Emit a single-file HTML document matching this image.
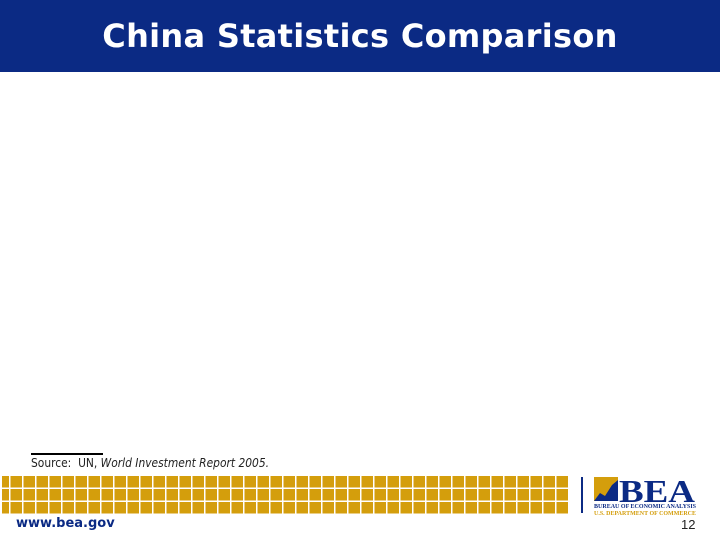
<!DOCTYPE html>
<html><head><meta charset="utf-8"><style>
html,body{margin:0;padding:0;}
body{width:720px;height:540px;position:relative;background:#fff;overflow:hidden;font-family:"Liberation Sans",sans-serif;}
#title-bar{position:absolute;left:0;top:0;width:720px;height:72px;background:#0B2A84;}
#title{position:absolute;left:0;top:17px;width:720px;text-align:center;color:#fff;font-family:"DejaVu Sans",sans-serif;font-weight:bold;font-size:32px;letter-spacing:0.3px;}
#src-rule{position:absolute;left:31px;top:453px;width:72px;height:2px;background:#000;}
#source{position:absolute;left:31px;top:456px;font-size:12px;color:#222;font-family:"DejaVu Sans",sans-serif;transform:scaleX(0.89);transform-origin:left;}
#grid{position:absolute;left:2px;top:476px;width:566px;height:38px;background-color:#D49E0C;
background-image:repeating-linear-gradient(to right,transparent 0,transparent 7px,#fff 7px,#fff 8.5px,transparent 8.5px,transparent 13px),
repeating-linear-gradient(to bottom,transparent 0,transparent 11.5px,#fff 11.5px,#fff 13px);}
#sep{position:absolute;left:581px;top:477px;width:2px;height:36px;background:#0B2A84;}
#url{position:absolute;left:16px;top:516px;font-size:13px;font-weight:bold;color:#0B2A84;font-family:"DejaVu Sans",sans-serif;}
#page{position:absolute;left:681px;top:517px;font-size:13px;color:#222;}
</style></head><body>
<div id="title-bar"></div>
<div id="title">China Statistics Comparison</div>
<div id="src-rule"></div>
<div id="source">Source:&nbsp; UN, <i>World Investment Report 2005.</i></div>
<div id="grid"></div>
<div id="sep"></div>
<svg style="position:absolute;left:592px;top:474px" width="106" height="42">
<rect x="2" y="3" width="24" height="24" fill="#D49E0C"/>
<path d="M2 27 L8 19 L13 22 L20 11 L26 6 L26 27 Z" fill="#0B2A84"/>
<text x="27" y="28" font-family="Liberation Serif,serif" font-weight="bold" font-size="32" fill="#0B2A84" textLength="76" lengthAdjust="spacingAndGlyphs">BEA</text>
<text x="2" y="34" font-family="Liberation Serif,serif" font-weight="bold" font-size="6.5" fill="#0B2A84" textLength="102" lengthAdjust="spacingAndGlyphs">BUREAU OF ECONOMIC ANALYSIS</text>
<text x="2" y="41" font-family="Liberation Serif,serif" font-weight="bold" font-size="6.5" fill="#D49E0C" textLength="102" lengthAdjust="spacingAndGlyphs">U.S. DEPARTMENT OF COMMERCE</text>
</svg>
<div id="url">www.bea.gov</div>
<div id="page">12</div>
</body></html>
